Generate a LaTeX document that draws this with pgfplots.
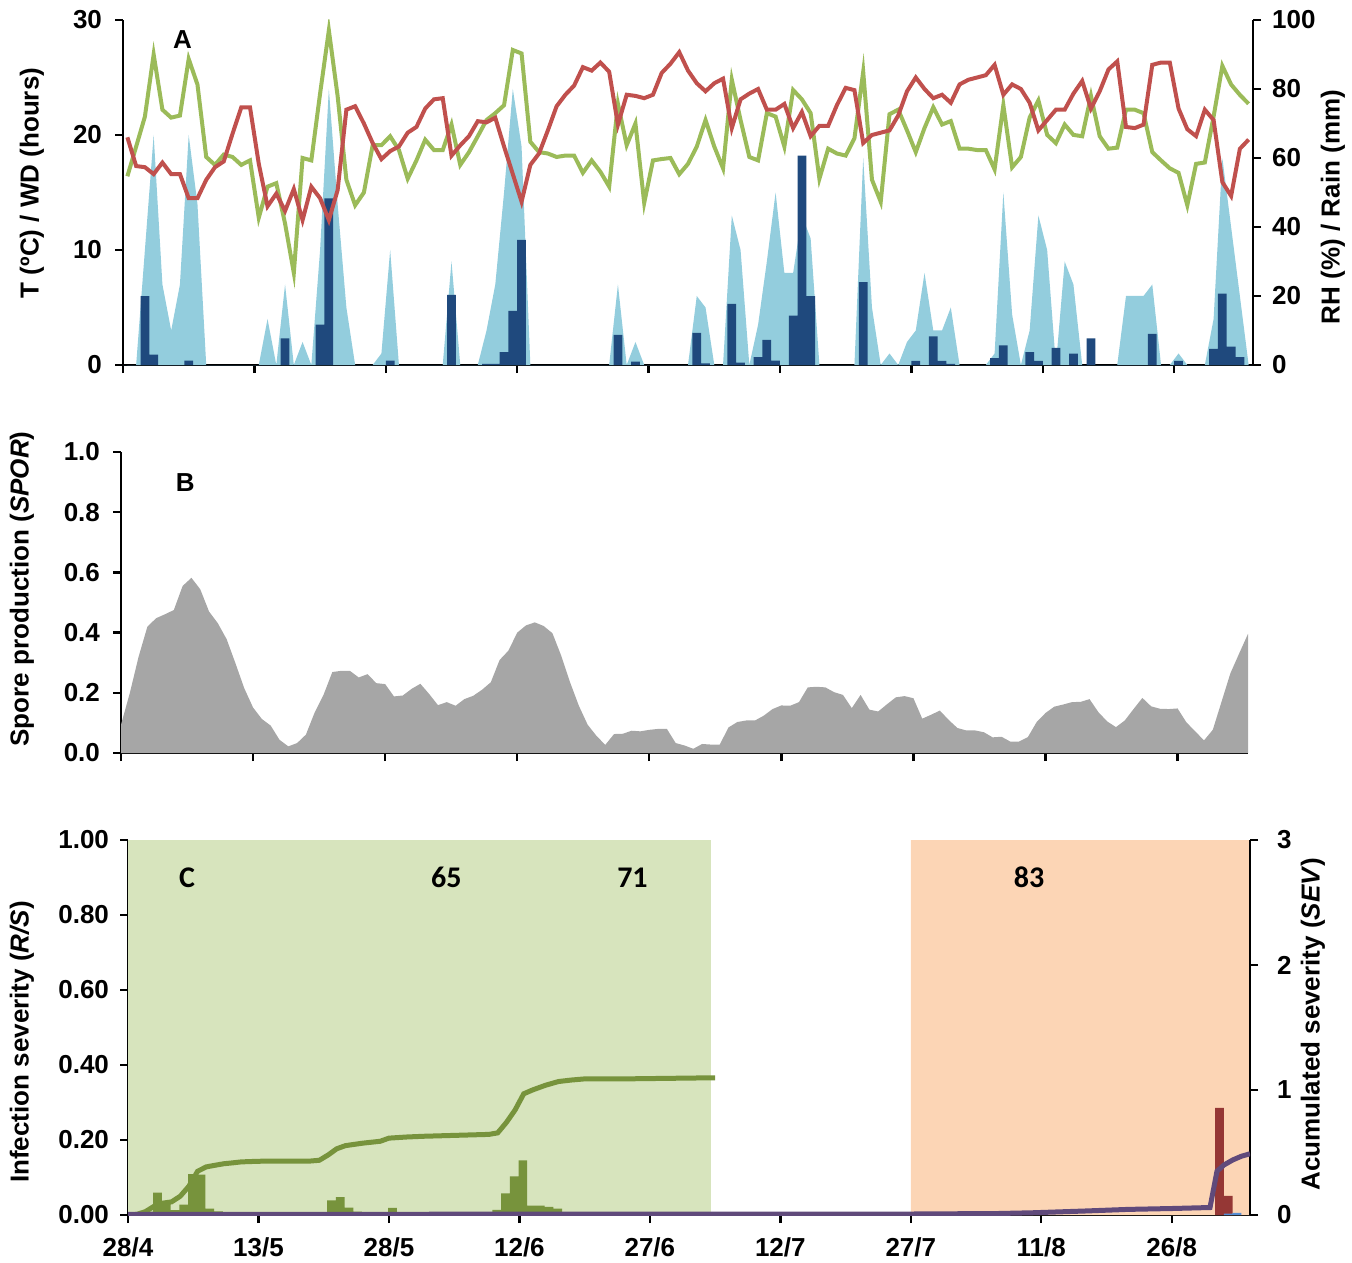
\documentclass[border=0pt]{standalone}
\usepackage{pgfplots}
\pgfplotsset{compat=1.18}
\usepackage{pgfplotstable}
\usepackage{fontspec}
\setmainfont{Liberation Sans}
\newfontfamily\calib{Carlito}

\definecolor{tred}{HTML}{C0504D}
\definecolor{rhgreen}{HTML}{9BBB59}
\definecolor{wdblue}{HTML}{93CDDD}
\definecolor{rainblue}{HTML}{1F497D}
\definecolor{sporgray}{HTML}{A6A6A6}
\definecolor{bgGreen}{HTML}{D7E4BD}
\definecolor{bgOrange}{HTML}{FCD5B5}
\definecolor{olive}{HTML}{77933C}
\definecolor{purp}{HTML}{604A7B}
\definecolor{dred}{HTML}{953735}
\definecolor{lblue}{HTML}{558ED5}

% day T(C) RH(%) WD(h) Rain(mm)
\pgfplotstableread{
day T RH WD rain
0 19.8 54.7 0 0
1 17.3 63.3 0 0
2 17.2 72.0 10 20.0
3 16.6 90.0 20 3.0
4 17.6 74.0 7 0
5 16.6 71.7 3 0
6 16.6 72.3 7 0
7 14.5 88.7 20 1.3
8 14.5 81.3 14 0
9 16.1 60.3 0 0
10 17.2 58.0 0 0
11 17.7 61.0 0 0
12 20.1 60.3 0 0
13 22.4 58.0 0 0
14 22.4 59.3 0 0
15 17.5 42.7 0 0
16 13.8 51.7 4 0
17 14.9 52.7 0 0
18 13.4 41.0 7 7.7
19 15.3 26.7 0 0
20 12.6 60.0 2 0
21 15.5 59.3 0 0
22 14.5 78.7 10 11.7
23 12.6 97.0 24 48.3
24 15.2 78.0 14 0
25 22.2 53.7 5 0
26 22.5 46.3 0 0
27 21.0 50.0 0 0
28 19.3 63.7 0 0
29 17.9 63.7 1 0
30 18.6 66.3 10 1.3
31 19.0 62.3 0 0
32 20.2 54.0 0 0
33 20.7 59.3 0 0
34 22.3 65.3 0 0
35 23.1 62.3 0 0
36 23.2 62.3 0 0
37 18.2 69.7 9 20.3
38 19.1 58.0 0 0
39 19.9 61.7 0 0
40 21.2 66.3 0 0
41 21.1 71.0 3 0.3
42 21.5 73.0 7 0.3
43 19.0 75.3 15 3.7
44 16.6 91.3 24 15.7
45 14.2 90.3 19 36.3
46 17.4 64.7 0 0
47 18.4 61.7 0 0
48 20.4 61.3 0 0
49 22.5 60.3 0 0
50 23.5 60.7 0 0
51 24.3 60.7 0 0
52 25.9 55.7 0 0
53 25.6 59.3 0 0
54 26.3 56.0 0 0
55 25.5 51.7 0 0
56 20.9 75.7 7 8.7
57 23.5 63.7 0 0
58 23.4 70.0 2 1.0
59 23.2 47.0 0 0
60 23.5 59.3 0 0
61 25.4 59.7 0 0
62 26.2 60.0 0 0
63 27.2 55.3 0 0
64 25.6 58.3 0 0
65 24.5 63.3 6 9.3
66 23.8 71.0 5 0.5
67 24.5 63.3 0 0
68 24.9 57.0 0 0
69 20.6 82.7 13 17.7
70 23.1 71.0 10 0.7
71 23.6 60.3 0 0
72 24.0 59.3 3.5 2.3
73 22.2 73.0 9 7.3
74 22.2 72.0 15 1.3
75 22.7 63.3 8 0
76 20.6 79.7 8 14.3
77 22.0 77.0 13 60.7
78 19.9 73.0 11 20.0
79 20.8 54.0 0 0
80 20.8 62.7 0 0
81 22.6 61.3 0 0
82 24.1 60.7 0 0
83 23.9 65.7 0 0
84 19.3 85.0 18 24.0
85 20.0 53.7 5 0
86 20.2 47.3 0 0
87 20.4 72.7 1 0
88 21.7 74.0 0 0
89 23.8 68.0 2 0
90 25.0 61.7 3 1.2
91 24.0 68.7 8 0
92 23.2 74.7 3 8.3
93 23.5 69.7 3 1.2
94 22.8 70.7 5 0.3
95 24.4 62.7 0 0
96 24.8 62.7 0 0
97 25.0 62.3 0 0
98 25.2 62.3 0 0
99 26.1 56.7 1 2.0
100 23.5 75.3 15 5.7
101 24.4 57.3 4.4 0
102 24.0 60.3 0 0
103 22.8 71.7 3 3.7
104 20.4 76.7 13 1.2
105 21.3 66.7 10 0
106 22.2 64.3 0 5.0
107 22.2 69.7 9 0
108 23.6 66.7 7 3.3
109 24.7 66.3 0 0
110 22.3 78.0 0 7.7
111 23.8 66.3 0 0
112 25.7 62.7 0 0
113 26.4 63.0 0 0
114 20.7 74.0 6 0
115 20.6 74.0 6 0
116 20.9 73.0 6 0
117 26.1 61.7 7 9.0
118 26.3 59.3 0 0
119 26.3 57.0 0 0
120 22.3 55.7 1 1.2
121 20.5 46.3 0 0
122 19.9 58.3 0 0
123 22.2 58.7 0 0
124 21.3 72.0 4 4.7
125 15.9 86.7 18 20.7
126 14.7 81.3 12 5.3
127 18.8 78.3 6 2.3
128 19.6 75.7 0 0
}\dataA

\pgfplotstableread{
day spor
0 0.094
1 0.199
2 0.320
3 0.420
4 0.448
5 0.461
6 0.475
7 0.555
8 0.582
9 0.544
10 0.470
11 0.431
12 0.378
13 0.298
14 0.215
15 0.151
16 0.113
17 0.091
18 0.044
19 0.022
20 0.033
21 0.061
22 0.135
23 0.193
24 0.269
25 0.273
26 0.273
27 0.251
28 0.262
29 0.232
30 0.229
31 0.188
32 0.191
33 0.213
34 0.230
35 0.196
36 0.159
37 0.169
38 0.157
39 0.179
40 0.190
41 0.210
42 0.235
43 0.309
44 0.340
45 0.400
46 0.424
47 0.434
48 0.422
49 0.398
50 0.323
51 0.235
52 0.157
53 0.094
54 0.057
55 0.027
56 0.063
57 0.064
58 0.074
59 0.072
60 0.077
61 0.080
62 0.080
63 0.033
64 0.025
65 0.014
66 0.030
67 0.028
68 0.028
69 0.085
70 0.103
71 0.108
72 0.108
73 0.124
74 0.146
75 0.158
76 0.157
77 0.169
78 0.218
79 0.220
80 0.218
81 0.202
82 0.193
83 0.149
84 0.193
85 0.144
86 0.138
87 0.162
88 0.185
89 0.189
90 0.182
91 0.114
92 0.127
93 0.141
94 0.110
95 0.083
96 0.075
97 0.075
98 0.069
99 0.052
100 0.054
101 0.038
102 0.038
103 0.053
104 0.103
105 0.133
106 0.154
107 0.161
108 0.169
109 0.170
110 0.179
111 0.136
112 0.105
113 0.086
114 0.108
115 0.146
116 0.183
117 0.155
118 0.147
119 0.146
120 0.148
121 0.102
122 0.072
123 0.042
124 0.077
125 0.171
126 0.265
127 0.331
128 0.396
}\dataB

\pgfplotsset{
  base/.style={
    scale only axis,
    axis line style={line width=1.2pt, black},
    tick style={line width=1.2pt, black},
    major tick length=4pt,
    /pgf/number format/assume math mode=true,
    tick label style={font=\bfseries\fontsize{13}{15}\selectfont},
  },
}

\begin{document}
\begin{tikzpicture}
\path[use as bounding box] (0,0) rectangle (676pt,-631pt);

% ---------------- Panel A ----------------
\begin{axis}[base, at={(61.5pt,-182.5pt)}, anchor=south west,
  width=565pt, height=172.5pt,
  xmin=-0.5, xmax=128.5, ymin=0, ymax=30,
  axis x line*=bottom, axis y line*=left, tick align=outside,
  xtick={-0.5,14.5,...,119.5}, xticklabels={},
  ytick={0,10,20,30},
  yticklabel style={xshift=-3pt}]
\addplot[fill=wdblue, draw=none] table[x=day,y=WD]{\dataA} \closedcycle;
\node[font=\bfseries\fontsize{13}{15}\selectfont] at (axis cs:6.3,28.3) {A};
\end{axis}
\begin{axis}[base, at={(61.5pt,-182.5pt)}, anchor=south west,
  width=565pt, height=172.5pt,
  xmin=-0.5, xmax=128.5, ymin=0, ymax=100,
  axis x line=none, axis y line*=right, tick align=outside,
  ytick={0,20,...,100},
  yticklabel style={xshift=2pt}]
\addplot[ybar, bar width=1, fill=rainblue, draw=none] table[x=day,y=rain]{\dataA};
\addplot[rhgreen, line width=2pt, sharp plot, mark=none] table[x=day,y=RH]{\dataA};
\end{axis}
\begin{axis}[base, at={(61.5pt,-182.5pt)}, anchor=south west,
  width=565pt, height=172.5pt,
  xmin=-0.5, xmax=128.5, ymin=0, ymax=30, hide axis]
\addplot[tred, line width=2pt, sharp plot, mark=none] table[x=day,y=T]{\dataA};
\end{axis}

% ---------------- Panel B ----------------
\begin{axis}[base, at={(60.5pt,-376.5pt)}, anchor=south west,
  width=563.5pt, height=150.5pt,
  xmin=0, xmax=128, ymin=0, ymax=1,
  axis x line*=bottom, axis y line*=left, tick align=outside,
  xtick={0,15,...,120}, xticklabels={},
  ytick={0,0.2,...,1.0},
  yticklabel style={/pgf/number format/fixed, /pgf/number format/fixed zerofill, /pgf/number format/precision=1, xshift=-3pt}]
\addplot[fill=sporgray, draw=none] table[x=day,y=spor]{\dataB} \closedcycle;
\node[font=\bfseries\fontsize{13}{15}\selectfont] at (axis cs:7.3,0.9) {B};
\end{axis}

% ---------------- Panel C ----------------
\begin{axis}[base, at={(64pt,-607.5pt)}, anchor=south west,
  width=561pt, height=187.5pt,
  xmin=0, xmax=129, ymin=0, ymax=1,
  axis x line*=bottom, axis y line*=left, tick align=outside,
  xtick={0,15,...,120},
  xticklabels={28/4,13/5,28/5,12/6,27/6,12/7,27/7,11/8,26/8},
  xticklabel style={yshift=-4pt},
  ytick={0,0.2,...,1.0},
  yticklabel style={/pgf/number format/fixed, /pgf/number format/fixed zerofill, /pgf/number format/precision=2, xshift=-2pt}]
\addplot[fill=bgGreen, draw=none] coordinates {(0,0) (0,1) (67,1) (67,0)} \closedcycle;
\addplot[fill=bgOrange, draw=none] coordinates {(90,0) (90,1) (129,1) (129,0)} \closedcycle;
\addplot[ybar, bar width=1, fill=olive, draw=none] coordinates {
(2.4,0.009) (3.4,0.060) (4.4,0.031) (5.4,0.013) (6.4,0.028) (7.4,0.109)
(8.4,0.108) (9.4,0.017) (10.4,0.010) (11.4,0.006) (12.4,0.006) (13.4,0.003)
(22.4,0.007) (23.4,0.039) (24.4,0.048) (25.4,0.020) (26.4,0.009) (27.4,0.006)
(28.4,0.006) (29.4,0.006) (30.4,0.019)
(42.4,0.014) (43.4,0.058) (44.4,0.103) (45.4,0.146) (46.4,0.025) (47.4,0.025)
(48.4,0.022) (49.4,0.017) (50.4,0.008) (51.4,0.003)};
\addplot[ybar, bar width=1, fill=dred, draw=none] coordinates {(125.5,0.286) (126.5,0.051)};
\addplot[ybar, bar width=1, fill=lblue, draw=none] coordinates {(126.5,0.004) (127.5,0.006)};
\node[font=\calib\bfseries\fontsize{15}{17}\selectfont] at (axis cs:6.8,0.9) {C};
\node[font=\calib\bfseries\fontsize{15}{17}\selectfont] at (axis cs:36.6,0.9) {65};
\node[font=\calib\bfseries\fontsize{15}{17}\selectfont] at (axis cs:58.0,0.9) {71};
\node[font=\calib\bfseries\fontsize{15}{17}\selectfont] at (axis cs:103.6,0.9) {83};
\end{axis}
\begin{axis}[base, at={(64pt,-607.5pt)}, anchor=south west,
  width=561pt, height=187.5pt,
  xmin=0, xmax=129, ymin=0, ymax=3,
  axis x line=none, axis y line*=right, tick align=outside,
  ytick={0,1,2,3},
  yticklabel style={xshift=6pt}]
\addplot[olive, line width=2.5pt, sharp plot, mark=none] coordinates {
(0,0) (1,0.005) (2,0.027) (3,0.07) (4,0.095) (5,0.105) (6,0.15) (7,0.23)
(8,0.35) (9,0.385) (10,0.398) (11,0.41) (12,0.417) (13,0.425) (15,0.43)
(18,0.432) (21,0.432) (22,0.438) (23,0.48) (24,0.53) (25,0.555) (27,0.575)
(29,0.59) (30,0.615) (32,0.624) (34,0.63) (37,0.636) (40,0.642) (41.5,0.645)
(42.5,0.657) (43.5,0.74) (44.5,0.84) (45.5,0.97) (46.5,1.0) (48,1.038)
(49.5,1.068) (51,1.08) (52.5,1.089) (57,1.089) (67.5,1.098)};
\addplot[purp, line width=2.5pt, sharp plot, mark=none] coordinates {
(0,0.005) (90,0.008) (100,0.012) (104,0.018) (110,0.032) (115,0.045)
(120,0.052) (124.4,0.06) (125.2,0.35) (126,0.40) (127,0.44) (128,0.47) (129,0.49)};
\end{axis}

% ---------------- axis titles ----------------
\begin{scope}[x=0.5pt,y=-0.5pt, every node/.style={font=\bfseries\fontsize{13}{15}\selectfont}]
\node[rotate=90] at (32,183) {T (ºC) / WD (hours)};
\node[rotate=90] at (1333,207) {RH (\%) / Rain (mm)};
\node[rotate=90] at (22,589) {Spore production (\textit{SPOR})};
\node[rotate=90] at (22,1042) {Infection severity (\textit{R/S})};
\node[rotate=90] at (1313,1024) {Acumulated severity (\textit{SEV})};
\end{scope}
\end{tikzpicture}
\end{document}
